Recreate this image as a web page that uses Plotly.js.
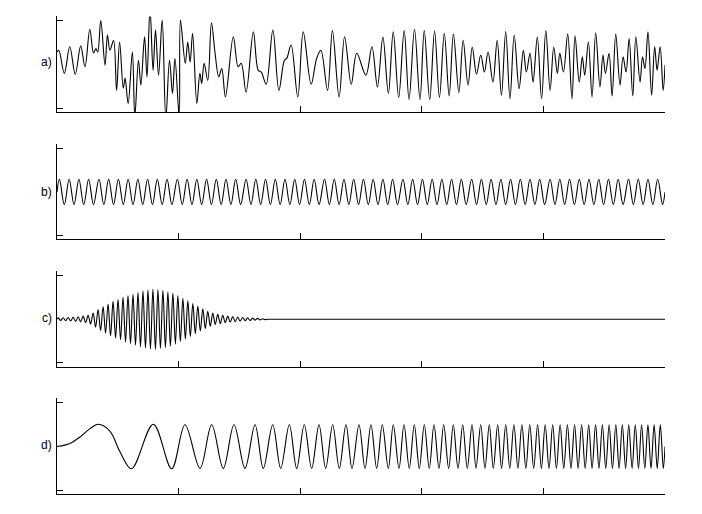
<!DOCTYPE html>
<html>
<head>
<meta charset="utf-8">
<script src="https://cdn.plot.ly/plotly-3.0.1.min.js"></script>
<style>
html,body{margin:0;padding:0;background:#fff;}
#chart{width:702px;height:514px;}
</style>
</head>
<body>
<div id="chart"></div>
<script>
// Sample axis: 0..1000 ; amplitude axis: ticks at -1 and 1
var xTicks = [0, 200, 400, 600, 800, 1000];
var yTicks = [-1, 1];
var panelLabels = ['a)', 'b)', 'c)', 'd)'];

// a) composite signal (extrema read from the picture)
var aT = [0,3,12,21,30,39,46,54,60,64,67,72,79,83,87,93,98,103,109,112,117,124,128,134,138,144,148,153,158,162,
  167,173,179,185,190,194,201,203,211,215,219,223,230,235,238,242,248,254,260,266,271,277,290,298,303,311,323,331,336,344,
  355,365,374,378,385,396,405,418,427,434,445,453,464,473,484,493,508,518,527,536,545,553,562,571,579,588,597,604,613,621,
  629,637,645,652,661,668,676,683,690,697,703,709,717,724,731,738,745,752,760,767,772,778,783,790,797,804,811,817,823,827,
  833,840,847,852,859,864,868,874,880,886,893,898,902,908,913,919,926,931,936,941,947,952,959,963,967,972,978,983,987,992,
  997,1000];
var aV = [0.29,0.33,-0.20,0.41,-0.22,0.43,-0.05,0.81,0.27,0.37,0.29,1.01,-0.01,0.68,0.33,0.55,-0.59,0.52,-0.54,-0.31,
  -0.89,0.29,-1.2,0.10,-0.47,0.64,-0.28,1.3,-0.13,0.79,-0.24,1.02,-1.25,0.10,-0.66,0.14,-1.2,1.02,0.03,0.52,
  0.06,0.72,-0.89,-0.20,-0.43,0.03,-0.36,0.96,0.26,-0.28,-0.09,-0.74,0.64,-0.05,0.03,-0.63,0.75,-0.13,-0.17,-0.45,
  0.79,-0.59,0.10,0.15,0.45,-0.74,0.75,-0.45,0.14,0.33,-0.59,0.78,-0.74,0.64,-0.45,0.26,-0.24,0.41,-0.51,0.63,
  -0.66,0.75,-0.75,0.78,-0.80,0.81,-0.80,0.78,-0.80,0.77,-0.75,0.72,-0.72,0.70,-0.64,0.56,-0.47,0.40,-0.22,0.22,
  -0.17,0.29,-0.40,0.56,-0.70,0.76,-0.78,0.68,-0.55,0.33,-0.17,0.26,-0.40,0.63,-0.78,0.78,-0.59,0.40,-0.20,0.26,
  -0.17,0.70,-0.78,0.66,-0.40,0.18,-0.24,0.52,-0.74,0.73,-0.51,0.22,-0.20,0.26,-0.72,0.70,-0.47,0.18,-0.17,0.60,
  -0.72,0.64,-0.40,0.18,-0.09,0.75,-0.70,0.41,-0.13,0.41,-0.59,-0.01];

// b) steady sinusoid (peaks and troughs)
var bT = [0,
  4,12,20,28,36,44,52,60,69,77,85,93,101,109,117,125,133,141,149,157,
  165,173,181,189,198,206,214,222,230,238,246,254,262,270,278,286,294,302,311,319,
  327,335,343,351,359,367,375,383,391,399,407,415,423,431,440,448,456,464,472,480,
  488,496,504,512,520,528,536,544,552,560,569,577,585,593,601,609,617,625,633,641,
  649,657,665,673,682,690,698,706,714,722,730,738,746,754,762,770,778,786,794,802,
  811,819,827,835,843,851,859,867,875,883,891,899,907,915,923,931,940,948,956,964,
  972,980,988,996,
  1000];
var bV = [0,
  0.29,-0.29,0.29,-0.29,0.29,-0.29,0.29,-0.29,0.29,-0.29,0.29,-0.29,0.29,-0.29,0.29,-0.29,0.29,-0.29,0.29,-0.29,
  0.29,-0.29,0.29,-0.29,0.29,-0.29,0.29,-0.29,0.29,-0.29,0.29,-0.29,0.29,-0.29,0.29,-0.29,0.29,-0.29,0.29,-0.29,
  0.29,-0.29,0.29,-0.29,0.29,-0.29,0.29,-0.29,0.29,-0.29,0.29,-0.29,0.29,-0.29,0.29,-0.29,0.29,-0.29,0.29,-0.29,
  0.29,-0.29,0.29,-0.29,0.29,-0.29,0.29,-0.29,0.29,-0.29,0.29,-0.29,0.29,-0.29,0.29,-0.29,0.29,-0.29,0.29,-0.29,
  0.29,-0.29,0.29,-0.29,0.29,-0.29,0.29,-0.29,0.29,-0.29,0.29,-0.29,0.29,-0.29,0.29,-0.29,0.29,-0.29,0.29,-0.29,
  0.29,-0.29,0.29,-0.29,0.29,-0.29,0.29,-0.29,0.29,-0.29,0.29,-0.29,0.29,-0.29,0.29,-0.29,0.29,-0.29,0.29,-0.29,
  0.29,-0.29,0.29,-0.29,
  0];

// c) wave packet (extrema), then flat
var cT = [0,
  2,6.1,10.2,14.3,18.4,22.5,26.6,30.7,34.8,38.9,43,47.1,51.2,55.3,59.4,63.5,67.6,71.7,75.8,79.9,
  84,88.1,92.2,96.3,100.4,104.5,108.6,112.7,116.8,120.9,125,129.1,133.2,137.3,141.4,145.5,149.6,153.7,157.8,161.9,
  166,170.1,174.2,178.3,182.4,186.5,190.6,194.7,198.8,202.9,207,211.1,215.2,219.3,223.4,227.5,231.6,235.7,239.8,243.9,
  248,252.1,256.2,260.3,264.4,268.5,272.6,276.7,280.8,284.9,289,293.1,297.2,301.3,305.4,309.5,313.6,317.7,321.8,325.9,
  330,334.1,338.2,342.3,
  346.4,350,360,400,1000];
var cV = [0,
  0.03,-0.03,0.035,-0.035,0.04,-0.04,0.045,-0.05,0.055,-0.06,0.07,-0.08,0.09,-0.11,0.14,-0.18,0.22,-0.26,0.29,-0.32,
  0.35,-0.38,0.41,-0.43,0.45,-0.47,0.5,-0.52,0.54,-0.56,0.57,-0.59,0.61,-0.63,0.65,-0.66,0.67,-0.68,0.69,-0.69,
  0.68,-0.67,0.66,-0.65,0.63,-0.62,0.6,-0.57,0.54,-0.51,0.48,-0.45,0.42,-0.39,0.36,-0.33,0.3,-0.27,0.24,-0.21,
  0.18,-0.16,0.14,-0.12,0.11,-0.1,0.09,-0.08,0.07,-0.065,0.06,-0.055,0.05,-0.045,0.04,-0.035,0.03,-0.03,0.025,-0.02,
  0.02,-0.015,0.01,-0.01,
  0,0,0,0,0];

// d) chirp (extrema)
var dT = [0,21.4,37.8,54.3,67.9,87.2,103.6,122.5,158.4,188.6,
  210.5,235.2,254.4,273.5,291.1,309.2,325.7,339.3,354.8,367.9,
  382.1,394.2,406.7,418.9,430.9,441.9,453.4,464.3,475.3,485.2,
  496.7,506.6,516.4,525.8,535.0,544.9,553.1,562.5,570.7,579.4,
  587.7,595.9,604.1,612.3,620.1,628.3,636.0,644.2,651.8,659.5,
  667.3,674.8,682.6,689.1,696.9,703.9,711.0,717.6,724.8,731.2,
  738.1,744.7,751.5,758.1,764.6,771.2,777.6,784.0,790.5,796.7,
  802.9,809.2,815.3,821.4,827.5,833.5,839.5,845.4,851.3,857.1,
  862.9,868.7,874.5,880.1,885.8,891.4,897.0,902.6,908.1,913.6,
  919.1,924.5,929.8,935.2,940.4,945.9,951.1,956.4,961.5,966.8,
  971.9,977.0,982.1,987.2,992.3,997.2,
  1000];
var dV = [0,0.07,0.22,0.41,0.51,0.35,-0.12,-0.51,0.51,-0.51,
  0.5,-0.5,0.5,-0.5,0.5,-0.5,0.5,-0.5,0.5,-0.5,
  0.5,-0.5,0.5,-0.5,0.5,-0.5,0.5,-0.5,0.5,-0.5,
  0.5,-0.5,0.5,-0.5,0.5,-0.5,0.5,-0.5,0.5,-0.5,
  0.5,-0.5,0.5,-0.5,0.5,-0.5,0.5,-0.5,0.5,-0.5,
  0.5,-0.5,0.5,-0.5,0.5,-0.5,0.5,-0.5,0.5,-0.5,
  0.5,-0.5,0.5,-0.5,0.5,-0.5,0.5,-0.5,0.5,-0.5,
  0.5,-0.5,0.5,-0.5,0.5,-0.5,0.5,-0.5,0.5,-0.5,
  0.5,-0.5,0.5,-0.5,0.5,-0.5,0.5,-0.5,0.5,-0.5,
  0.5,-0.5,0.5,-0.5,0.5,-0.5,0.5,-0.5,0.5,-0.5,
  0.5,-0.5,0.5,-0.5,0.5,-0.5,
  0];

var series = [[aT, aV], [bT, bV], [cT, cV], [dT, dV]];
var domains = [[0.7821, 0.9679], [0.5344, 0.7202], [0.2868, 0.4726], [0.0391, 0.2249]];
var labelShift = [3, 0, 1, 1.5];

var traces = [];
var layout = {
  width: 702, height: 514,
  margin: {l: 57, r: 37, t: 0, b: 0, pad: 0},
  paper_bgcolor: '#fff', plot_bgcolor: '#fff',
  showlegend: false,
  annotations: []
};
for (var i = 0; i < 4; i++) {
  var s = i === 0 ? '' : String(i + 1);
  traces.push({
    x: series[i][0], y: series[i][1],
    xaxis: 'x' + s, yaxis: 'y' + s,
    type: 'scatter', mode: 'lines',
    line: {color: '#000', width: 1.1, shape: 'spline', smoothing: 1, simplify: false},
    hoverinfo: 'skip'
  });
  layout['xaxis' + s] = {
    domain: [0, 1], range: [0, 1000], anchor: 'y' + s,
    showline: true, linecolor: '#000', linewidth: 1,
    ticks: 'inside', ticklen: 6, tickwidth: 1, tickcolor: '#000',
    tickmode: 'array', tickvals: xTicks, showticklabels: false,
    showgrid: false, zeroline: false, fixedrange: true
  };
  layout['yaxis' + s] = {
    domain: domains[i], range: [-1.085, 1.103], anchor: 'x' + s,
    showline: true, linecolor: '#000', linewidth: 1,
    ticks: 'inside', ticklen: 6, tickwidth: 1, tickcolor: '#000',
    tickmode: 'array', tickvals: yTicks, showticklabels: false,
    showgrid: false, zeroline: false, fixedrange: true
  };
  layout.annotations.push({
    text: panelLabels[i], xref: 'paper', yref: 'y' + s,
    x: 0, y: 0, xanchor: 'right', yanchor: 'middle', xshift: -3, yshift: labelShift[i],
    showarrow: false,
    font: {family: 'Liberation Sans, Arial, sans-serif', size: 12, color: '#000'}
  });
}
Plotly.newPlot('chart', traces, layout, {staticPlot: true, displayModeBar: false});
</script>
</body>
</html>
